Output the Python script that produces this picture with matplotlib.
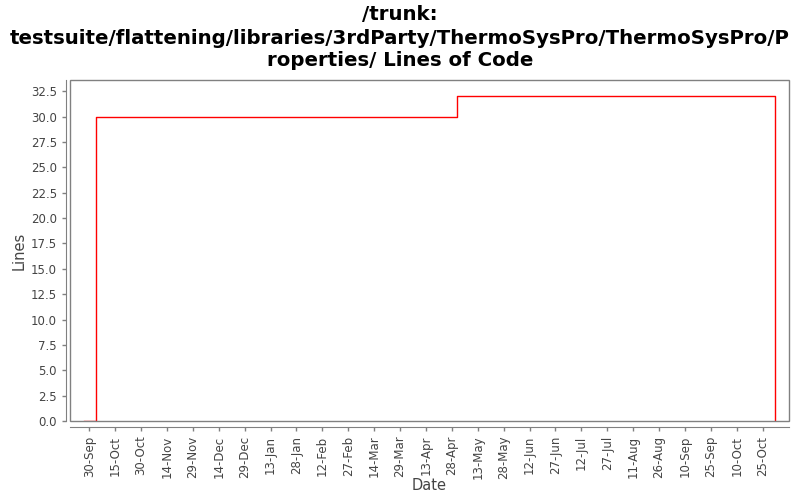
import matplotlib
matplotlib.use("Agg")
import matplotlib.pyplot as plt
import matplotlib.dates as mdates
from matplotlib.patches import Rectangle
import numpy as np
import datetime as dt

title_lines = ["/trunk:",
               "testsuite/flattening/libraries/3rdParty/ThermoSysPro/ThermoSysPro/P",
               "roperties/ Lines of Code"]
dates = ["2008-09-27", "2008-10-04", "2009-05-01", "2009-11-01"]
lines_of_code = [0, 30, 32, 0]
y_ticks = [0.0, 2.5, 5.0, 7.5, 10.0, 12.5, 15.0, 17.5, 20.0, 22.5, 25.0, 27.5, 30.0, 32.5]
tick_start = "2008-09-30"
tick_count = 27
tick_step_days = 15

x = [dt.datetime.strptime(d, "%Y-%m-%d") for d in dates]
t0 = dt.datetime.strptime(tick_start, "%Y-%m-%d")
xticks = [t0 + dt.timedelta(days=tick_step_days * i) for i in range(tick_count)]

fig = plt.figure(figsize=(8, 5), dpi=100)
ax = fig.add_axes([70/800, 1-421/500, (789-70)/800, (421-80)/500])

ax.plot(x, lines_of_code, color="#ff0000", linewidth=1.0, drawstyle="steps-post", zorder=3)

ax.set_xlim(t0 - dt.timedelta(days=11.2), t0 + dt.timedelta(days=405.3))
ax.set_ylim(0, 33.6)
ax.set_yticks(y_ticks)
ax.set_yticklabels([f"{v:.1f}" for v in y_ticks])
ax.set_xticks(xticks)
ax.xaxis.set_major_formatter(mdates.DateFormatter("%d-%b"))

gray = "#808080"
for s in ["top", "right"]:
    ax.spines[s].set_visible(False)
ax.spines["left"].set_position(("outward", 3))
ax.spines["bottom"].set_position(("outward", 4))
ax.spines["left"].set_color(gray)
ax.spines["bottom"].set_color(gray)
ax.add_patch(Rectangle((0, 0), 1, 1, transform=ax.transAxes, fill=False,
                       edgecolor=gray, linewidth=1.0, clip_on=False, zorder=4))

ax.tick_params(axis="both", colors=gray, labelcolor="#444444", labelsize=8.5, length=3, width=1)
ax.tick_params(axis="x", labelrotation=90)

ax.set_xlabel("Date", fontsize=10.5, color="#444444", labelpad=-1)
ax.set_ylabel("Lines", fontsize=10.5, color="#444444", labelpad=3)

for yy, t in zip([14, 38, 60], title_lines):
    fig.text(0.5, 1-yy/500, t, ha="center", va="center", fontsize=14.2, fontweight="bold")

fig.savefig("out.png", dpi=100, facecolor="white")
